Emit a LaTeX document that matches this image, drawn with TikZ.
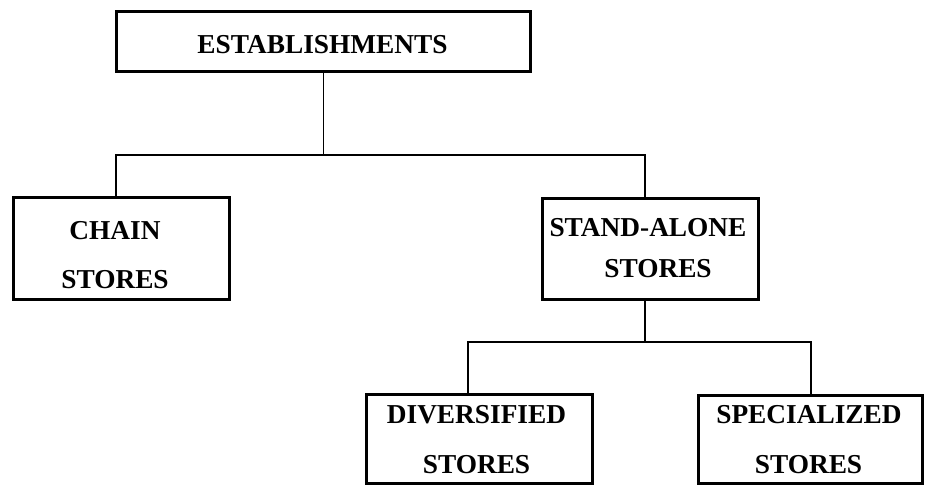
\documentclass[tikz,border=0pt]{standalone}
\usepackage{fontspec}
\setmainfont{Liberation Serif}
\usepackage{tikz}

\tikzset{
  box/.style={draw, line width=2.25pt, inner sep=0pt},
  txt/.style={font=\bfseries\fontsize{20.5}{24}\selectfont, anchor=base, inner sep=0pt},
  link/.style={line width=1.2pt}
}

\begin{document}
\begin{tikzpicture}[x=0.75pt,y=-0.75pt]

  \useasboundingbox (0,0) rectangle (926,487);

  \node[box, minimum width=310.5pt, minimum height=45pt] (est) at (323.5,41.5) {};
  \node[box, minimum width=162pt, minimum height=76.5pt] (chain) at (121.5,248.5) {};
  \node[box, minimum width=162pt, minimum height=75.75pt] (alone) at (650.5,249) {};
  \node[box, minimum width=169.5pt, minimum height=66.75pt] (div) at (479.5,439) {};
  \node[box, minimum width=168pt, minimum height=66pt] (spec) at (810.5,439.5) {};

  \node[txt] (est1) at (322.5,53) {ESTABLISHMENTS};
  \node[txt] (chain1) at (115,239) {CHAIN};
  \node[txt] (chain2) at (115,288) {STORES};
  \node[txt] (alone1) at (648,236) {STAND-ALONE};
  \node[txt] (alone2) at (658,277) {STORES};
  \node[txt] (div1) at (476.5,423) {DIVERSIFIED};
  \node[txt] (div2) at (476.5,473) {STORES};
  \node[txt] (spec1) at (809,423) {SPECIALIZED};
  \node[txt] (spec2) at (808.5,473) {STORES};

  \coordinate (h1l) at (116,155);
  \coordinate (h1r) at (645,155);
  \coordinate (h2l) at (468,342);
  \coordinate (h2r) at (811,342);

  \draw[link] (est.south) -- (est.south |- h1l);
  \draw[link] (h1l |- chain.north) -- (h1l) -- (h1r) -- (h1r |- alone.north);
  \draw[link] (h1r |- alone.south) -- (h1r |- h2l);
  \draw[link] (h2l |- div.north) -- (h2l) -- (h2r) -- (h2r |- spec.north);

\end{tikzpicture}
\end{document}
